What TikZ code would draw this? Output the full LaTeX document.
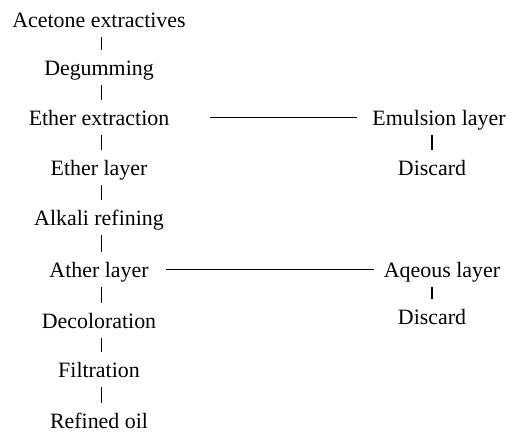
\documentclass[tikz,border=0pt]{standalone}
\usepackage{fontspec}
\setmainfont{Liberation Serif}
\begin{document}
\begin{tikzpicture}[x=1pt,y=1pt,
  lbl/.style={inner sep=0pt,anchor=base,text height=14.5pt,text depth=4.75pt,
    font=\fontsize{21.9}{26}\selectfont},
  bar/.style={line width=1.3pt,shorten <=5.5pt,shorten >=10.5pt},
  hline/.style={line width=1pt}]
\useasboundingbox (0,0) rectangle (512,-432);
% left column
\node[lbl] (a) at (99,-27)  {Acetone extractives};
\node[lbl] (b) at (99,-75)  {Degumming};
\node[lbl] (c) at (99,-125) {Ether extraction};
\node[lbl] (d) at (99,-175) {Ether layer};
\node[lbl] (e) at (99,-225) {Alkali refining};
\node[lbl] (f) at (99,-277) {Ather layer};
\node[lbl] (g) at (99,-328) {Decoloration};
\node[lbl] (h) at (99,-377) {Filtration};
\node[lbl] (i) at (99,-428) {Refined oil};
% right column
\node[lbl] (em) at (439,-125) {Emulsion layer};
\node[lbl] (d1) at (432,-175) {Discard};
\node[lbl] (aq) at (442,-277) {Aqeous layer};
\node[lbl] (d2) at (432,-324) {Discard};
% vertical bars
\foreach \u/\v in {a/b,b/c,c/d,d/e,e/f,f/g,g/h,h/i}
  \draw[bar] ([xshift=2.5pt]\u.south) -- ([xshift=2.5pt]\v.north);
\draw[bar] (em.south -| d1.north) -- (d1.north);
\draw[bar] (aq.south -| d2.north) -- (d2.north);
% horizontal lines
\draw[hline] ([shift={(41pt,8pt)}]c.base east) -- ([shift={(-15pt,8pt)}]em.base west);
\draw[hline] ([shift={(17pt,8pt)}]f.base east) -- ([shift={(-10pt,8pt)}]aq.base west);
\end{tikzpicture}
\end{document}
